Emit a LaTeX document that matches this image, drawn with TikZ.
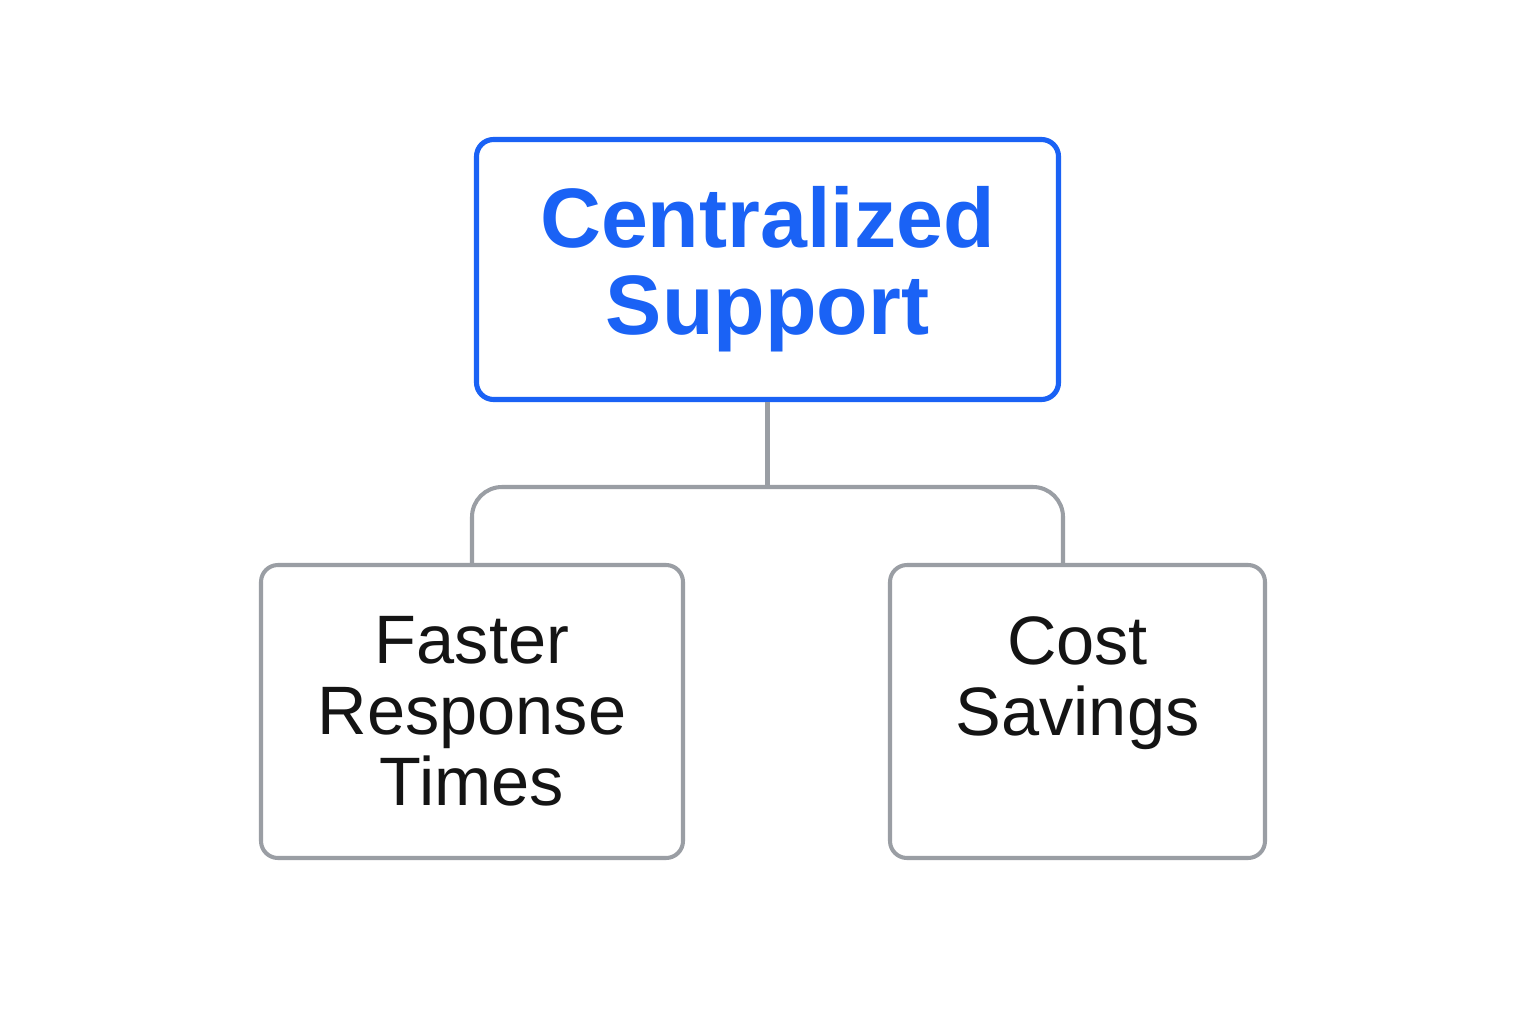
\documentclass[tikz,border=0pt]{standalone}
\usepackage{fontspec}
\setmainfont{Liberation Sans}
\usetikzlibrary{positioning}
\definecolor{hubblue}{HTML}{1A62F5}
\definecolor{linkgray}{HTML}{9A9EA4}
\definecolor{inkblack}{HTML}{141414}
\tikzset{
  topbox/.style={draw=hubblue,line width=1.45pt,rounded corners=0.17cm,fill=white,
    minimum width=5.82cm,minimum height=2.60cm,align=center,text=hubblue,
    font=\bfseries\fontsize{24}{24.7}\selectfont},
  leafbox/.style={draw=linkgray,line width=1.15pt,rounded corners=0.17cm,fill=white,
    minimum height=2.93cm,align=center,text=inkblack,
    font=\fontsize{19.5}{20.2}\selectfont},
  link/.style={draw=linkgray,line width=1.15pt,rounded corners=0.3cm}
}
\begin{document}
\begin{tikzpicture}[x=1cm,y=1cm]
\useasboundingbox[fill=white] (0,0) rectangle (15.36,10.24);
\node[topbox] (central) at (7.675,7.545) {Centralized\\Support};
\node[leafbox,minimum width=4.22cm] (faster) at (4.72,3.125) {Faster\\Response\\Times};
\node[leafbox,minimum width=3.75cm] (savings) at (10.775,3.125) {Cost\\Savings\\\mbox{}};
\coordinate (hub) at (central.south |- 0,5.37);
\coordinate (savings-in) at ([xshift=-0.145cm]savings.north);
\draw[link,rounded corners=0pt] (central.south) -- (hub);
\draw[link] (faster.north) |- (hub) -| (savings-in);
\end{tikzpicture}
\end{document}
